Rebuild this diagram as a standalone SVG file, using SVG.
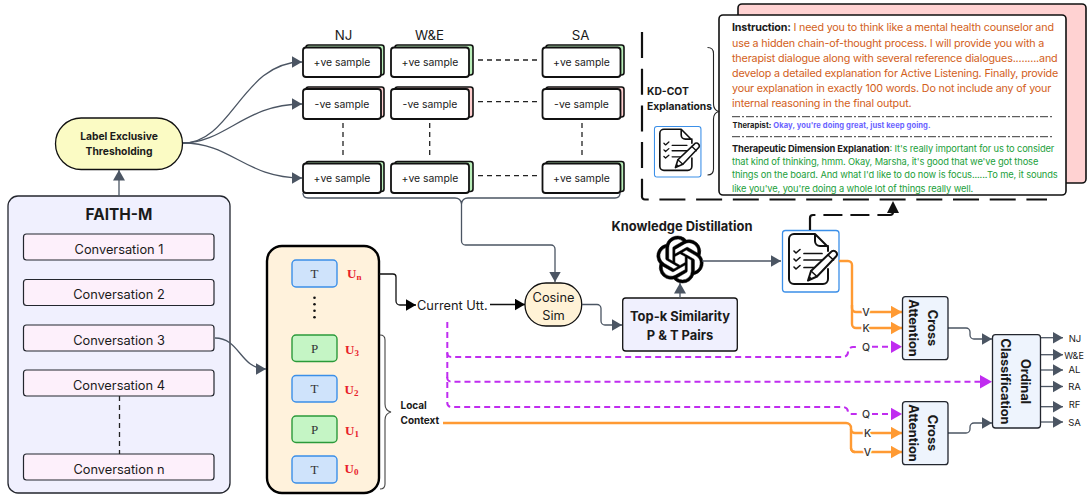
<svg xmlns="http://www.w3.org/2000/svg" xmlns:xlink="http://www.w3.org/1999/xlink" width="1087" height="495" viewBox="0 0 1087 495">
<style>
text{font-family:Inter,"Noto Sans","Liberation Sans",sans-serif;fill:#1a1a1a}
.c{text-anchor:middle}
.b{font-weight:700}
.conv{fill:#fdf0fb;stroke:#23262e;stroke-width:1.2}
.sf{fill:#fff;stroke:#111;stroke-width:1.8}
.sg{fill:#b9eeb9;stroke:#111;stroke-width:1.6}
.sr{fill:#ffcfcf;stroke:#111;stroke-width:1.6}
.lb{font-size:10.4px}
.t{fill:#cfe3fb;stroke:#3b8fe8;stroke-width:1.4}
.p{fill:#c5f5c5;stroke:#2b9a3a;stroke-width:1.4}
.ser{font-family:"Liberation Serif",serif;font-size:13px;fill:#333}
.u{font-family:"Liberation Serif",serif;font-size:13px;font-weight:700;fill:#e8202a}
.us{font-size:9px;fill:#e8202a;font-family:"Liberation Serif",serif;font-weight:700}
.g{fill:none;stroke:#4b5563;stroke-width:1.3}
.d{fill:none;stroke:#222;stroke-width:1.3;stroke-dasharray:5 4}
.o{fill:none;stroke:#ff9a33;stroke-width:2.4}
.v{fill:none;stroke:#c02cf0;stroke-width:2;stroke-dasharray:6 4}
.k{fill:none;stroke:#111;stroke-width:1.3}
.ins{font-size:10.75px;fill:#d2601a}
.gr{font-size:9.3px;fill:#22a03a}
.sep{stroke:#222;stroke-width:.9;stroke-dasharray:8 2 2 2;fill:none}
.ca{fill:#eef4fd;stroke:#23262e;stroke-width:1.3}
.lbl{font-size:10.5px;font-weight:500;fill:#333;paint-order:stroke;stroke:#fff;stroke-width:3.5px}
.ic{fill:none;stroke:#111;stroke-linecap:round;stroke-linejoin:round}
</style>
<defs>
<marker id="ag" markerUnits="userSpaceOnUse" markerWidth="11" markerHeight="12" refX="10.5" refY="6" orient="auto"><path d="M0,0L10.5,6L0,12Z" fill="#4b5563"/></marker>
<marker id="ak" markerUnits="userSpaceOnUse" markerWidth="11" markerHeight="12" refX="10.5" refY="6" orient="auto"><path d="M0,0L10.5,6L0,12Z" fill="#000"/></marker>
<marker id="ao" markerUnits="userSpaceOnUse" markerWidth="12" markerHeight="13" refX="11.5" refY="6.5" orient="auto"><path d="M0,0L11.5,6.5L0,13Z" fill="#ff9a33"/></marker>
<marker id="av" markerUnits="userSpaceOnUse" markerWidth="12" markerHeight="13" refX="11.5" refY="6.5" orient="auto"><path d="M0,0L11.5,6.5L0,13Z" fill="#c02cf0"/></marker>
<symbol id="doc" viewBox="0 0 57 62" overflow="visible">
<rect x=".5" y=".5" width="56.5" height="61.5" rx="3" fill="#fff" stroke="#3b8fe8" stroke-width="1.3"/>
<path class="ic" stroke-width="2" d="M33,4H12a5,5 0 0 0 -5,5V49a5,5 0 0 0 5,5H41a5,5 0 0 0 5,-5V39M46,21V17L33,4V11a5,5 0 0 0 5,5H46"/>
<path class="ic" stroke-width="1.6" d="M12,21l2,2l4,-3.5M12,29l2,2l4,-3.5M12,37l2,2l4,-3.5"/>
<path class="ic" stroke-width="1.7" d="M22,23.5H40M22,30H40M22,37.5H32"/>
<path d="M26,50.5L29,41L49,22a3,3 0 0 1 5,0a3,3 0 0 1 0,4.500L35,46.500Z" fill="#fff" stroke="#111" stroke-width="2" stroke-linejoin="round"/>
<path d="M29,41L35,46.500M46,25L51.500,30" class="ic" stroke-width="1.600"/>
<path d="M26,50.500L27.500,46L30.500,49Z" fill="#111"/>
</symbol>
</defs>

<g id="faith-m">
<rect x="8" y="196" width="222" height="297" rx="10" fill="#f0f0fe" stroke="#23262e" stroke-width="1.300"/>
<text class="c b" x="119" y="219.500" font-size="15.400">FAITH-M</text>
<g id="conv1"><rect class="conv" x="23.500" y="234" width="190.500" height="26" rx="3"/><text class="c" x="119" y="253.500" font-size="12.800">Conversation 1</text></g>
<g id="conv2"><rect class="conv" x="23.500" y="279.500" width="190.500" height="26" rx="3"/><text class="c" x="119" y="299" font-size="12.800">Conversation 2</text></g>
<g id="conv3"><rect class="conv" x="23.500" y="325" width="190.500" height="26" rx="3"/><text class="c" x="119" y="344.500" font-size="12.800">Conversation 3</text></g>
<g id="conv4"><rect class="conv" x="23.500" y="370" width="190.500" height="26" rx="3"/><text class="c" x="119" y="390" font-size="12.800">Conversation 4</text></g>
<g id="convn"><rect class="conv" x="23.500" y="454" width="190.500" height="26" rx="3"/><text class="c" x="119" y="474" font-size="12.800">Conversation n</text></g>
</g>

<g id="thresholding">
<rect x="55.500" y="118" width="127" height="51.500" rx="25.700" fill="#fbfbc4" stroke="#111" stroke-width="1.300"/>
<text class="c b" x="119" y="139.500" font-size="10.300">Label Exclusive</text>
<text class="c b" x="119" y="154.500" font-size="10.300">Thresholding</text>
</g>

<g id="headers">
<text class="c" x="343.500" y="39.500" font-size="13.300">NJ</text>
<text class="c" x="429.500" y="40" font-size="13.300">W&amp;E</text>
<text class="c" x="580.500" y="40" font-size="13.300">SA</text>
</g>
<g id="samples">
<g id="s11"><rect class="sg" x="306" y="45" width="78" height="30" rx="2.500"/><rect class="sf" x="303" y="47.500" width="78" height="29.500" rx="3"/><text class="c lb" x="342" y="66">+ve sample</text></g>
<g id="s12"><rect class="sg" x="395" y="45" width="78" height="30" rx="2.500"/><rect class="sf" x="391" y="47.500" width="78" height="29.500" rx="3"/><text class="c lb" x="430" y="66">+ve sample</text></g>
<g id="s13"><rect class="sg" x="546" y="45" width="78" height="30" rx="2.500"/><rect class="sf" x="542.500" y="47.500" width="78" height="29.500" rx="3"/><text class="c lb" x="581.500" y="66">+ve sample</text></g>
<g id="s21"><rect class="sr" x="306" y="87" width="78" height="30" rx="2.500"/><rect class="sf" x="303" y="89" width="78" height="30" rx="3"/><text class="c lb" x="342" y="108">-ve sample</text></g>
<g id="s22"><rect class="sr" x="395" y="87" width="78" height="30" rx="2.500"/><rect class="sf" x="391" y="89" width="78" height="30" rx="3"/><text class="c lb" x="430" y="108">-ve sample</text></g>
<g id="s23"><rect class="sr" x="546" y="87" width="78" height="30" rx="2.500"/><rect class="sf" x="542.500" y="89" width="78" height="30" rx="3"/><text class="c lb" x="581.500" y="108">-ve sample</text></g>
<g id="s31"><rect class="sg" x="306" y="161.500" width="78" height="30" rx="2.500"/><rect class="sf" x="303" y="163.500" width="78" height="29.500" rx="3"/><text class="c lb" x="342" y="182">+ve sample</text></g>
<g id="s32"><rect class="sg" x="395" y="161.500" width="78" height="30" rx="2.500"/><rect class="sf" x="391" y="163.500" width="78" height="29.500" rx="3"/><text class="c lb" x="430" y="182">+ve sample</text></g>
<g id="s33"><rect class="sg" x="546" y="161.500" width="78" height="30" rx="2.500"/><rect class="sf" x="542.500" y="163.500" width="78" height="29.500" rx="3"/><text class="c lb" x="581.500" y="182">+ve sample</text></g>
</g>

<g id="kd-cot">
<path fill="none" stroke="#111" stroke-width="2.200" stroke-dasharray="26 10.700" d="M642,32V196a3,3 0 0 0 3,3.500H1047"/>
<rect x="738" y="4" width="348" height="179" rx="4" fill="#ffd2d2" stroke="#111" stroke-width="1.600"/>
<rect x="719" y="15" width="347" height="180" rx="4" fill="#fff" stroke="#111" stroke-width="1.600"/>
<text class="ins" x="732" y="31" textLength="322"><tspan class="b" style="fill:#1a1a1a">Instruction:</tspan> I need you to think like a mental health counselor and</text>
<text class="ins" x="732" y="46.500" textLength="312.300">use a hidden chain-of-thought process. I will provide you with a</text>
<text class="ins" x="732" y="61.500" textLength="325.700">therapist dialogue along with several reference dialogues.........and</text>
<text class="ins" x="732" y="76.500" textLength="326.300">develop a detailed explanation for Active Listening. Finally, provide</text>
<text class="ins" x="732" y="91.500" textLength="319.300">your explanation in exactly 100 words. Do not include any of your</text>
<text class="ins" x="732" y="106.500" textLength="179.700">internal reasoning in the final output.</text>
<path class="sep" d="M732,116.700H1054M732,136.700H1054"/>
<text x="732.500" y="128.300" font-size="7.600" class="b" textLength="198">Therapist: <tspan style="fill:#6a63ff">Okay, you're doing great, just keep going.</tspan></text>
<text class="gr" x="732" y="151.500" textLength="322.300"><tspan class="b" style="fill:#1a1a1a">Therapeutic Dimension Explanation</tspan>: It's really important for us to consider</text>
<text class="gr" x="732" y="164.800" textLength="306.300">that kind of thinking, hmm. Okay, Marsha, it's good that we've got those</text>
<text class="gr" x="732" y="178.200" textLength="325.700">things on the board. And what I'd like to do now is focus......To me, it sounds</text>
<text class="gr" x="732" y="191.500" textLength="241.300">like you've, you're doing a whole lot of things really well.</text>
<path fill="none" stroke="#222" stroke-width="1.100" d="M707.500,47.500c4,0 6,2 6,6V104c0,4 1,6 5,7.500c-4,1.500 -5,3.500 -5,7.500V169c0,4 -2,6 -6,6"/>
<text class="b" x="647" y="94.500" font-size="10.300">KD-COT</text>
<text class="b" x="647" y="109.500" font-size="10.300">Explanations</text>
<use href="#doc" xlink:href="#doc" x="654" y="126" width="47" height="51"/>
</g>

<g id="context">
<rect x="267" y="246" width="112" height="247" rx="15" fill="#fff2dc" stroke="#000" stroke-width="2.400"/>
<g id="u-n"><rect class="t" x="292" y="260" width="45" height="27" rx="4"/><text class="c ser" x="314.500" y="277.500">T</text><text class="u" x="347" y="277.500">U<tspan class="us" dy="2">n</tspan></text></g>
<circle cx="314.500" cy="297.700" r="1.300" fill="#111"/><circle cx="314.500" cy="304.200" r="1.300" fill="#111"/><circle cx="314.500" cy="310.800" r="1.300" fill="#111"/><circle cx="314.500" cy="317.300" r="1.300" fill="#111"/>
<g id="u-3"><rect class="p" x="292" y="335" width="45" height="26.500" rx="4"/><text class="c ser" x="314.500" y="352.500">P</text><text class="u" x="345" y="353.500">U<tspan class="us" dy="2">3</tspan></text></g>
<g id="u-2"><rect class="t" x="292" y="375.500" width="45" height="26.500" rx="4"/><text class="c ser" x="314.500" y="393">T</text><text class="u" x="344.500" y="393.500">U<tspan class="us" dy="2">2</tspan></text></g>
<g id="u-1"><rect class="p" x="292" y="416" width="45" height="26.500" rx="4"/><text class="c ser" x="314.500" y="433.500">P</text><text class="u" x="345" y="435">U<tspan class="us" dy="2">1</tspan></text></g>
<g id="u-0"><rect class="t" x="292" y="456" width="45" height="27" rx="4"/><text class="c ser" x="314.500" y="474">T</text><text class="u" x="344.500" y="473">U<tspan class="us" dy="2">0</tspan></text></g>
</g>
<path fill="none" stroke="#444" stroke-width="1.100" d="M380,335c3,0 5,2 5,5V404c0,4 2,7 6,8c-4,1 -6,4 -6,8V484c0,3 -2,5 -5,5"/>
<text class="b" x="400.500" y="408.500" font-size="10">Local</text>
<text class="b" x="400.500" y="423.500" font-size="10">Context</text>

<text x="417" y="309.500" font-size="12.800">Current Utt.</text>

<g id="cosine"><rect x="525" y="283" width="56.700" height="43" rx="21" fill="#fff2d6" stroke="#111" stroke-width="1.300"/>
<text class="c" x="553.500" y="301.500" font-size="12.800">Cosine</text><text class="c" x="553.500" y="320" font-size="12.800">Sim</text></g>
<g id="topk"><rect x="622.700" y="298" width="114.600" height="53" rx="3" fill="#f0f0fe" stroke="#111" stroke-width="1.300"/>
<text class="c b" x="680" y="320.500" font-size="12.900">Top-k Similarity</text><text class="c b" x="680" y="339.500" font-size="12.900">P &amp; T Pairs</text></g>
<g id="distill">
<text class="c b" x="682" y="230.500" font-size="12.900">Knowledge Distillation</text>
<path transform="translate(656.500,236) scale(1.960)" fill="#000" stroke="#000" stroke-width=".25" d="M22.2819 9.8211a5.9847 5.9847 0 0 0-.5157-4.9108 6.0462 6.0462 0 0 0-6.5098-2.9A6.0651 6.0651 0 0 0 4.9807 4.1818a5.9847 5.9847 0 0 0-3.9977 2.9 6.0462 6.0462 0 0 0 .7427 7.0966 5.98 5.98 0 0 0 .511 4.9107 6.051 6.051 0 0 0 6.5146 2.9001A5.9847 5.9847 0 0 0 13.2599 24a6.0557 6.0557 0 0 0 5.7718-4.2058 5.9894 5.9894 0 0 0 3.9977-2.9001 6.0557 6.0557 0 0 0-.7475-7.0729zm-9.022 12.6081a4.4755 4.4755 0 0 1-2.8764-1.0408l.1419-.0804 4.7783-2.7582a.7948.7948 0 0 0 .3927-.6813v-6.7369l2.02 1.1686a.071.071 0 0 1 .038.052v5.5826a4.504 4.504 0 0 1-4.4945 4.4944zm-9.6607-4.1254a4.4708 4.4708 0 0 1-.5346-3.0137l.142.0852 4.783 2.7582a.7712.7712 0 0 0 .7806 0l5.8428-3.3685v2.3324a.0804.0804 0 0 1-.0332.0615L9.74 19.9502a4.4992 4.4992 0 0 1-6.1408-1.6464zM2.3408 7.8956a4.485 4.485 0 0 1 2.3655-1.9728V11.6a.7664.7664 0 0 0 .3879.6765l5.8144 3.3543-2.0201 1.1685a.0757.0757 0 0 1-.071 0l-4.8303-2.7865A4.504 4.504 0 0 1 2.3408 7.872zm16.5963 3.8558L13.1038 8.364 15.1192 7.2a.0757.0757 0 0 1 .071 0l4.8303 2.7913a4.4944 4.4944 0 0 1-.6765 8.1042v-5.6772a.79.79 0 0 0-.407-.667zm2.0107-3.0231l-.142-.0852-4.7735-2.7818a.7759.7759 0 0 0-.7854 0L9.409 9.2297V6.8974a.0662.0662 0 0 1 .0284-.0615l4.8303-2.7866a4.4992 4.4992 0 0 1 6.6802 4.66zM8.3065 12.863l-2.02-1.1638a.0804.0804 0 0 1-.038-.0567V6.0742a4.4992 4.4992 0 0 1 7.3757-3.4537l-.142.0805L8.704 5.459a.7948.7948 0 0 0-.3927.6813zm1.0976-2.3654l2.602-1.4998 2.6069 1.4998v2.9994l-2.5974 1.4997-2.6067-1.4997Z"/>
</g>
<g id="doc-node"><use href="#doc" xlink:href="#doc" x="782" y="230" width="57" height="62"/></g>

<g id="connectors">
<path class="g" marker-end="url(#ag)" d="M119,196V170"/>
<path class="g" marker-end="url(#ag)" d="M183,143C232,143 242,62 302,62"/>
<path class="g" marker-end="url(#ag)" d="M183,143C225,143 245,104 302,104"/>
<path class="g" marker-end="url(#ag)" d="M183,143C232,143 245,178 302,178"/>
<path class="g" marker-end="url(#ag)" d="M215,338C240,338 240,369 266,369"/>
<path class="d" d="M119.500,396V454"/>
<path class="d" d="M478,60H537M478,101.700H537M478,175.700H537M343,123V159M429.700,123V159M582,123V159"/>
<path class="g" d="M303,193c0,3 2,5 5,5H455c4,0 6,2 6.500,6c.5,-4 2.500,-6 6.500,-6H615c3,0 5,-2 5,-5" stroke-width="1.100"/>
<path class="g" marker-end="url(#ag)" d="M461.500,204V241a4,4 0 0 0 4,4H551a4,4 0 0 1 4,4V282"/>
<path class="k" marker-end="url(#ak)" d="M379,274H393a3,3 0 0 1 3,3V301a4,4 0 0 0 4,4H416"/>
<path class="k" marker-end="url(#ak)" d="M490,304.500H525"/>
<path class="g" marker-end="url(#ag)" d="M582,304.500H597a4,4 0 0 1 4,4V321a4,4 0 0 0 4,4H622"/>
<path class="g" marker-end="url(#ag)" d="M680,298V283"/>
<path class="g" marker-end="url(#ag)" d="M702,261H781"/>
<path fill="none" stroke="#111" stroke-width="2.200" stroke-dasharray="19 8" d="M810,230V218a3,3 0 0 1 3,-3H890a3,3 0 0 0 3,-3"/>
<path d="M887,213L893,201L899,213Z" fill="#111"/>
<path class="o" marker-end="url(#ao)" d="M839,261H848a4,4 0 0 1 4,4V308a4,4 0 0 0 4,4H902"/>
<path class="o" marker-end="url(#ao)" d="M852,305V324a4,4 0 0 0 4,4H902"/>
<path class="o" d="M443,423H846a5,5 0 0 1 5,5V448a4,4 0 0 0 4,4"/>
<path class="o" marker-end="url(#ao)" d="M851,429a4,4 0 0 0 4,4H902"/>
<path class="o" marker-end="url(#ao)" d="M851,448a4,4 0 0 0 4,4H902"/>
<path class="v" d="M447.300,322V403a4,4 0 0 0 4,4H843a5,5 0 0 1 5,5a3,3 0 0 0 3,2H858"/>
<path class="v" d="M447.300,353a4,4 0 0 0 4,4H843a5,5 0 0 0 5,-5a5,5 0 0 1 5,-5H858"/>
<path class="v" d="M447.300,377a4,4 0 0 0 4,4.700H982"/>
<path class="v" marker-end="url(#av)" d="M872,346.700H902"/>
<path class="v" marker-end="url(#av)" d="M872,414H902"/>
<path d="M980,375L992,381.700L980,388.500Z" fill="#c02cf0"/>
<path class="g" marker-end="url(#ag)" d="M948,328H966a4,4 0 0 1 4,4V335a4,4 0 0 0 4,4H992"/>
<path class="g" marker-end="url(#ag)" d="M948,433H966a4,4 0 0 0 4,-4V427a4,4 0 0 1 4,-4H992"/>
<path class="g" marker-end="url(#ag)" d="M1041,337.700H1063"/>
<path class="g" marker-end="url(#ag)" d="M1041,354.700H1063"/>
<path class="g" marker-end="url(#ag)" d="M1041,370H1063"/>
<path class="g" marker-end="url(#ag)" d="M1041,386.500H1063"/>
<path class="g" marker-end="url(#ag)" d="M1041,406.700H1063"/>
<path class="g" marker-end="url(#ag)" d="M1041,422H1063"/>
</g>

<g id="labels">
<text class="c lbl" x="866" y="316">V</text><text class="c lbl" x="866" y="332">K</text><text class="c lbl" x="866" y="351">Q</text>
<text class="c lbl" x="866" y="418">Q</text><text class="c lbl" x="867.500" y="437">K</text><text class="c lbl" x="867.500" y="456">V</text>
</g>
<g id="cross1"><rect class="ca" x="902.500" y="296.700" width="45.500" height="63" rx="3"/>
<text class="c b" transform="translate(928,328) rotate(90)" font-size="12.800">Cross</text><text class="c b" transform="translate(909,328) rotate(90)" font-size="12.800">Attention</text></g>
<g id="cross2"><rect class="ca" x="902.500" y="401.700" width="45.500" height="63" rx="3"/>
<text class="c b" transform="translate(928,433) rotate(90)" font-size="12.800">Cross</text><text class="c b" transform="translate(909,433) rotate(90)" font-size="12.800">Attention</text></g>
<g id="ordinal"><rect class="ca" x="992.500" y="334.700" width="48" height="93.300" rx="3"/>
<text class="c b" transform="translate(1021,381.500) rotate(90)" font-size="12.800">Ordinal</text><text class="c b" transform="translate(1001,381.500) rotate(90)" font-size="12.800">Classification</text></g>
<g id="outputs">
<text class="c" x="1075" y="341.500" font-size="9.500">NJ</text><text class="c" x="1074" y="358.500" font-size="9">W&amp;E</text><text class="c" x="1074.500" y="373" font-size="9.500">AL</text><text class="c" x="1074.500" y="389.500" font-size="9.500">RA</text><text class="c" x="1074.500" y="408" font-size="9.500">RF</text><text class="c" x="1074.500" y="425.500" font-size="9.500">SA</text>
</g>
</svg>
